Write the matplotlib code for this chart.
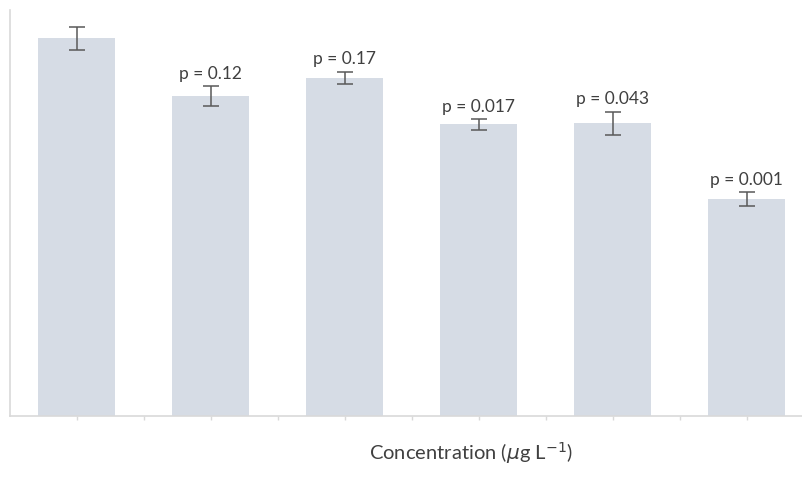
import matplotlib.pyplot as plt
import numpy as np

# relative response (% of control)
groups = ["0", "c1", "c2", "c3", "c4", "c5"]
means = [100, 84.7, 89.6, 77.2, 77.5, 57.5]
errs = [3.1, 2.6, 1.6, 1.5, 3.1, 1.8]
pvals = [None, "0.12", "0.17", "0.017", "0.043", "0.001"]

plt.rcParams['font.family'] = ['Lato', 'DejaVu Sans']

fig = plt.figure(figsize=(8.02, 4.86), dpi=100)
ax = fig.add_axes([10 / 802, 70 / 486, 803.5 / 802, 406 / 486])

x = np.arange(len(groups))
ax.bar(x, means, width=0.575, color="#d6dce5", zorder=2)
ax.errorbar(x, means, yerr=errs, fmt="none", ecolor="#595959",
            elinewidth=1.1, capsize=6, capthick=1.1, zorder=3)

for i, p in enumerate(pvals):
    if p is None:
        continue
    ax.annotate("p = " + p, xy=(x[i], means[i] + errs[i]), xytext=(0, 3),
                textcoords="offset points", ha="center", va="bottom",
                fontsize=12.5, color="#404040")

ax.set_xlim(-0.5, len(groups) - 0.5)
ax.set_ylim(0, 107.5)
ax.set_xticks(np.arange(0, len(groups), 0.5))
ax.set_xticklabels([])
ax.set_yticks([])
ax.tick_params(axis="x", length=3, color="#d9d9d9", width=1)
for s in ["top", "right"]:
    ax.spines[s].set_visible(False)
for s in ["left", "bottom"]:
    ax.spines[s].set_color("#d9d9d9")
    ax.spines[s].set_linewidth(1.2)

fig.text(471 / 802, 1 - 453 / 486, r"Concentration ($\mu$g L$^{-1}$)",
         ha="center", va="center", fontsize=14.5, color="#404040")

fig.savefig("out.png", dpi=100)
